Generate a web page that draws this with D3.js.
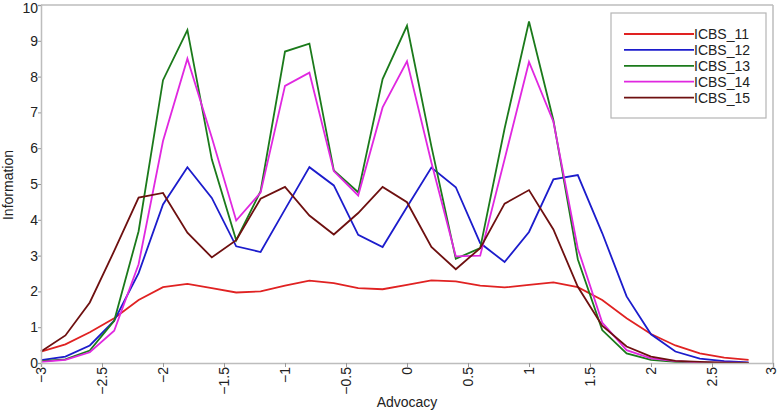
<!DOCTYPE html>
<html>
<head>
<meta charset="utf-8">
<script src="https://cdn.jsdelivr.net/npm/d3@7"></script>
<style>
  html, body { margin: 0; padding: 0; background: #fff; }
  svg { display: block; font-family: "Liberation Sans", Arial, sans-serif; }
</style>
</head>
<body>
<svg id="chart" width="778" height="411"></svg>
<script>
const xValues = [-3, -2.8, -2.6, -2.4, -2.2, -2, -1.8, -1.6, -1.4, -1.2, -1, -0.8, -0.6, -0.4, -0.2,
                 0, 0.2, 0.4, 0.6, 0.8, 1, 1.2, 1.4, 1.6, 1.8, 2, 2.2, 2.4, 2.6, 2.8];

const seriesNames = ["ICBS_11", "ICBS_12", "ICBS_13", "ICBS_14", "ICBS_15"];
const seriesColors = ["#e02222", "#1c1ccc", "#1b7a1b", "#e028e0", "#6e1010"];

const icbs11 = [0.32, 0.52, 0.86, 1.25, 1.76, 2.12, 2.21, 2.09, 1.97, 2.0, 2.16, 2.3, 2.23, 2.09, 2.06,
                2.18, 2.31, 2.28, 2.16, 2.11, 2.18, 2.25, 2.12, 1.76, 1.25, 0.81, 0.49, 0.27, 0.15, 0.09];
const icbs12 = [0.08, 0.18, 0.49, 1.18, 2.51, 4.43, 5.47, 4.61, 3.26, 3.1, 4.29, 5.47, 4.96, 3.58, 3.24,
                4.36, 5.46, 4.91, 3.35, 2.82, 3.66, 5.13, 5.25, 3.63, 1.86, 0.8, 0.32, 0.12, 0.05, 0.02];
const icbs13 = [0.05, 0.1, 0.35, 1.18, 3.68, 7.9, 9.3, 5.69, 3.43, 4.8, 8.7, 8.92, 5.38, 4.77, 7.93,
                9.42, 6.05, 2.91, 3.21, 6.55, 9.54, 6.78, 2.9, 0.92, 0.27, 0.09, 0.03, 0.01, 0.0, 0.0];
const icbs14 = [0.03, 0.09, 0.3, 0.9, 2.76, 6.2, 8.5, 6.3, 3.98, 4.76, 7.74, 8.11, 5.36, 4.68, 7.14,
                8.43, 5.6, 2.98, 3.0, 5.69, 8.41, 6.74, 3.2, 1.13, 0.36, 0.13, 0.05, 0.02, 0.01, 0.0];
const icbs15 = [0.32, 0.77, 1.69, 3.13, 4.62, 4.75, 3.64, 2.95, 3.43, 4.59, 4.92, 4.12, 3.59, 4.19, 4.92,
                4.49, 3.24, 2.62, 3.21, 4.45, 4.83, 3.73, 2.13, 1.04, 0.46, 0.18, 0.06, 0.03, 0.01, 0.0];

const seriesValues = [icbs11, icbs12, icbs13, icbs14, icbs15];

const xTicks = [-3, -2.5, -2, -1.5, -1, -0.5, 0, 0.5, 1, 1.5, 2, 2.5, 3];
const yTicks = [0, 1, 2, 3, 4, 5, 6, 7, 8, 9, 10];
const xTitle = "Advocacy";
const yTitle = "Information";

const svg = d3.select("#chart");
const pL = 41, pR = 773, pT = 5, pB = 363;

const x = d3.scaleLinear().domain([-3, 3]).range([pL, pR]);
const y = d3.scaleLinear().domain([0, 10]).range([pB, pT]);

const frameColor = "#bdbdbd";

// frame top and right
svg.append("line").attr("x1", pL).attr("x2", pR).attr("y1", pT).attr("y2", pT)
  .attr("stroke", frameColor).attr("stroke-width", 1.5);
svg.append("line").attr("x1", pR).attr("x2", pR).attr("y1", pT).attr("y2", pB)
  .attr("stroke", frameColor).attr("stroke-width", 1.5);

// Lines
const line = d3.line().x((d, i) => x(xValues[i])).y(d => y(d));
seriesValues.forEach((vals, k) => {
  svg.append("path").datum(vals)
    .attr("d", line)
    .attr("fill", "none")
    .attr("stroke", seriesColors[k])
    .attr("stroke-width", 1.8)
    .attr("stroke-linejoin", "miter");
});

// X axis
const xAxis = svg.append("g").attr("transform", `translate(0,${pB})`)
  .call(d3.axisBottom(x).tickValues(xTicks).tickFormat(d3.format("")).tickSizeOuter(0).tickSize(4));
xAxis.select(".domain").attr("stroke", frameColor).attr("stroke-width", 1.5);
xAxis.selectAll(".tick line").attr("stroke", "#999");
xAxis.selectAll(".tick text")
  .attr("font-size", 14).attr("fill", "#222")
  .attr("transform", "rotate(-90)")
  .attr("text-anchor", "end")
  .attr("x", -4).attr("y", d => d === 3 ? -2 : 0).attr("dy", "0.35em");

// Y axis
const yAxis = svg.append("g").attr("transform", `translate(${pL},0)`)
  .call(d3.axisLeft(y).tickValues(yTicks).tickFormat(d3.format("d")).tickSizeOuter(0).tickSize(3));
yAxis.select(".domain").attr("stroke", frameColor).attr("stroke-width", 1.5);
yAxis.selectAll(".tick line").attr("stroke", "#999");
yAxis.selectAll(".tick text").attr("font-size", 14).attr("fill", "#222").attr("x", -3)
  .attr("dy", d => d === 10 ? "0.5em" : "0.32em");

// Titles
svg.append("text").attr("x", 407).attr("y", 407).attr("text-anchor", "middle")
  .attr("font-size", 14).attr("fill", "#222").text(xTitle);
svg.append("text").attr("transform", "translate(13,185) rotate(-90)").attr("text-anchor", "middle")
  .attr("font-size", 14).attr("fill", "#222").text(yTitle);

// Legend
const lg = svg.append("g");
lg.append("rect").attr("x", 611).attr("y", 13).attr("width", 155).attr("height", 105)
  .attr("fill", "#fff").attr("stroke", "#b5b5b5").attr("stroke-width", 1.2);
seriesNames.forEach((name, k) => {
  const yy = 34 + k * 15.9;
  lg.append("line").attr("x1", 624).attr("x2", 694).attr("y1", yy).attr("y2", yy)
    .attr("stroke", seriesColors[k]).attr("stroke-width", 1.8);
  lg.append("text").attr("x", 694).attr("y", yy).attr("dy", "0.36em")
    .attr("font-size", 14).attr("fill", "#222").text(name);
});
</script>
</body>
</html>
